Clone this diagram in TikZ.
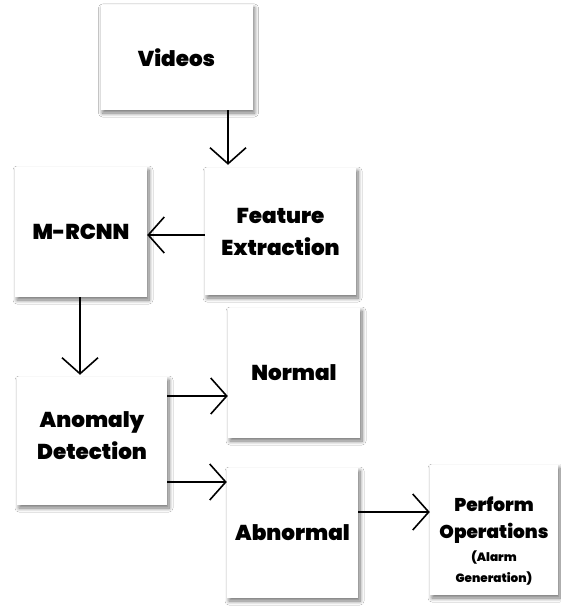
\documentclass[tikz,border=0pt]{standalone}
\usepackage{fontspec}
\setmainfont{Poppins}[BoldFont={Poppins Black}]
\usetikzlibrary{arrows.meta,shadows.blur,calc}

\tikzset{
  box/.style={fill=white, draw=none, inner sep=0pt, align=center,
    font=\bfseries\fontsize{21.5}{32}\selectfont,
    blur shadow={shadow xshift=2pt, shadow yshift=-3pt, shadow blur steps=8,
                 shadow blur radius=4pt, shadow opacity=55}},
  caption/.style={inner sep=0pt, align=center, font=\bfseries\fontsize{21.5}{32}\selectfont},
  smallcaption/.style={inner sep=0pt, align=center, font=\bfseries\fontsize{18.5}{27}\selectfont},
  arr/.style={line width=1.7pt, -{Straight Barb[length=16pt, width=36pt, line width=1.6pt]}}
}

\begin{document}
\begin{tikzpicture}[x=1pt, y=-1pt]
  \useasboundingbox[fill=white] (0,0) rectangle (561,607);

  % processing stages
  \node[box, minimum width=152pt, minimum height=105pt] (videos) at (176.5,57.5) {Videos};
  \node[box, minimum width=151pt, minimum height=127pt] (feat)   at (280.5,231.5) {Feature\\Extraction};
  \node[box, minimum width=132pt, minimum height=130pt] (mrcnn)  at (81,232) {M-RCNN};
  \node[box, minimum width=150pt, minimum height=128pt] (anom)   at (92,441) {};
  \node[caption] (anomtext) at (92,436) {Anomaly\\Detection};
  \node[box, minimum width=132pt, minimum height=130pt] (normal) at (294,373) {Normal};
  \node[box, minimum width=131pt, minimum height=130pt] (abnorm) at (292.5,533) {Abnormal};
  \node[box, minimum width=128pt, minimum height=130pt] (perform) at (494,530) {};
  \node[smallcaption] (performtext) at (494,541)
        {Perform\\Operations\\[-4pt]{\fontsize{12}{23}\selectfont(Alarm}\\[-6pt]{\fontsize{12}{23}\selectfont Generation)}};

  % flow between stages
  \draw[arr, shorten >=3pt] ([xshift=51.5pt]videos.south) -- ([xshift=51.5pt]videos.south |- feat.north);
  \draw[arr] ([yshift=-3.5pt]feat.west) -- ([yshift=-3.5pt]feat.west -| mrcnn.east);
  \draw[arr, shorten >=2pt] ([xshift=-1pt]mrcnn.south) -- ([xshift=-1pt]mrcnn.south |- anom.north);
  \draw[arr] ([yshift=45pt]anom.east) -- ([yshift=45pt]anom.east -| normal.west);
  \draw[arr] ([yshift=-41pt]anom.east) -- ([yshift=-41pt]anom.east -| abnorm.west);
  \draw[arr] ([yshift=21pt]abnorm.east) -- ([yshift=21pt]abnorm.east -| perform.west);
\end{tikzpicture}
\end{document}
